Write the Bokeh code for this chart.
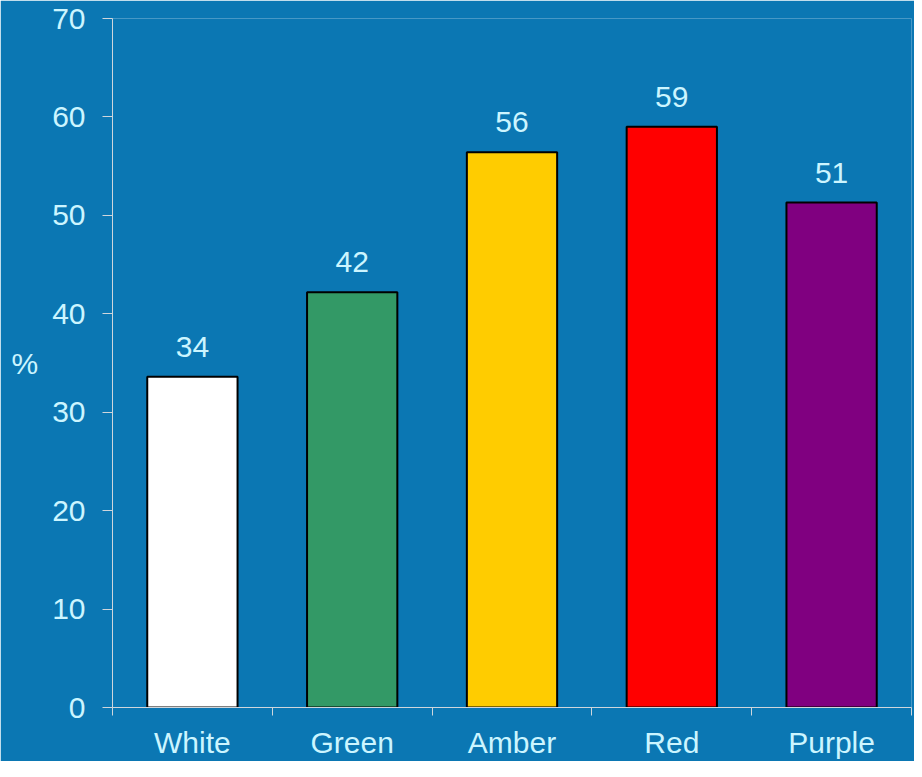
from bokeh.plotting import figure
from bokeh.models import FixedTicker, ColumnDataSource, Range1d
from bokeh.embed import file_html
from bokeh.resources import INLINE
from bokeh.core.properties import value

# ---- data ----
categories = ["White", "Green", "Amber", "Red", "Purple"]
percent = [33.6, 42.2, 56.4, 59.0, 51.3]
bar_colors = ["#FFFFFF", "#339966", "#FFCC00", "#FF0000", "#800080"]
y_ticks = [0, 10, 20, 30, 40, 50, 60, 70]

# ---- style ----
BG = "#0B77B3"
TXT = "#CCF5FF"
AX = "#CFD6DC"
FONT = "Liberation Sans"
FS = "30px"

centers = [i + 0.5 for i in range(len(categories))]
bounds = list(range(len(categories) + 1))
labels = [str(int(round(v))) for v in percent]

src = ColumnDataSource(dict(x=centers, top=percent, color=bar_colors, label=labels))

p = figure(width=914, height=761, output_backend="svg", toolbar_location=None,
           x_range=Range1d(0, len(categories)), y_range=Range1d(0, 70),
           min_border_left=112, min_border_right=3, min_border_top=18, min_border_bottom=54,
           background_fill_color=BG, border_fill_color=BG, outline_line_color=None)
p.grid.visible = False

p.vbar(x="x", top="top", bottom=0, width=0.565, fill_color="color",
       line_color="black", line_width=2, source=src)
p.text(x="x", y="top", text="label", source=src, text_align="center",
       text_baseline="alphabetic", y_offset=-30, text_color=TXT,
       text_font=value(FONT), text_font_size=FS)

xa = p.xaxis[0]
xa.ticker = FixedTicker(ticks=centers, minor_ticks=bounds)
xa.major_label_overrides = {c: n for c, n in zip(centers, categories)}
xa.major_tick_out = 0
xa.major_tick_in = 0
xa.minor_tick_out = 8
xa.minor_tick_in = 0
xa.minor_tick_line_color = AX
xa.axis_line_color = AX
xa.major_label_text_color = TXT
xa.major_label_text_font = FONT
xa.major_label_text_font_size = FS
xa.major_label_standoff = 10

ya = p.yaxis[0]
ya.ticker = FixedTicker(ticks=y_ticks)
ya.major_tick_out = 10
ya.major_tick_in = 0
ya.major_tick_line_color = AX
ya.minor_tick_line_color = None
ya.axis_line_color = AX
ya.major_label_text_color = TXT
ya.major_label_text_font = FONT
ya.major_label_text_font_size = FS
ya.major_label_standoff = 17
ya.axis_label = "%"
ya.axis_label_orientation = "horizontal"
ya.axis_label_text_color = TXT
ya.axis_label_text_font = FONT
ya.axis_label_text_font_size = FS
ya.axis_label_text_font_style = "normal"
ya.axis_label_standoff = 11

open("out.html", "w").write(file_html(p, INLINE))
